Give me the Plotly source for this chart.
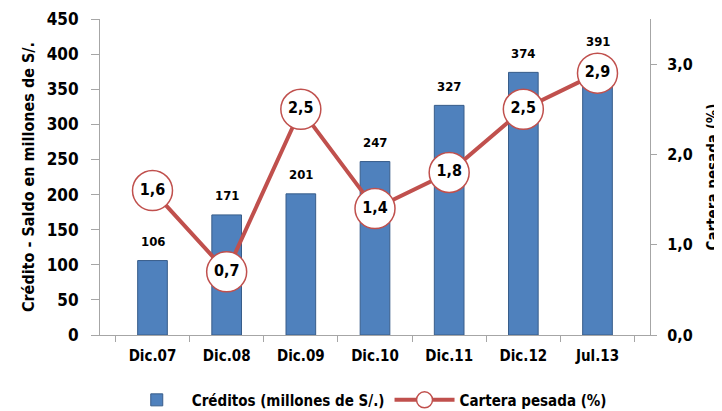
import plotly.graph_objects as go

# datos del gráfico
periodos = ['Dic.07', 'Dic.08', 'Dic.09', 'Dic.10', 'Dic.11', 'Dic.12', 'Jul.13']
creditos = [106, 171, 201, 247, 327, 374, 391]
cartera_pesada = [1.6, 0.7, 2.5, 1.4, 1.8, 2.5, 2.9]

FONT = "DejaVu Sans Condensed, DejaVu Sans, Arial"
AZUL = "#4F81BD"
ROJO = "#C0504D"
GRIS = "#A6A6A6"

fig = go.Figure()

# barras de créditos (eje izquierdo)
fig.add_trace(go.Bar(
    x=periodos, y=creditos,
    name="Créditos (millones de S/.)",
    marker=dict(color=AZUL, line=dict(color="#385D8A", width=1)),
))

# línea de cartera pesada (eje derecho)
fig.add_trace(go.Scatter(
    x=periodos, y=cartera_pesada, yaxis="y2",
    name="Cartera pesada (%)", mode="lines+markers",
    line=dict(color=ROJO, width=4),
    marker=dict(size=40, color="white", line=dict(color=ROJO, width=1.5)),
    cliponaxis=False,
))

# etiquetas dentro de los círculos
fig.add_trace(go.Scatter(
    x=periodos, y=cartera_pesada, yaxis="y2",
    mode="text", showlegend=False, cliponaxis=False,
    text=[f"{v:.1f}".replace(".", ",") for v in cartera_pesada],
    textposition="middle center",
    textfont=dict(family=FONT, size=16, color="black", weight="bold"),
))

# etiquetas sobre las barras
for p, c in zip(periodos, creditos):
    fig.add_annotation(x=p, y=c, yref="y", text=str(c), showarrow=False,
                       yanchor="middle", yshift=19,
                       font=dict(family=FONT, size=13, color="black", weight="bold"))

fig.update_layout(
    width=722, height=411,
    paper_bgcolor="white", plot_bgcolor="white",
    separators=",.",
    font=dict(family=FONT, size=14, color="black", weight="bold"),
    margin=dict(l=92, r=80, t=11, b=84),
    bargap=0.6,
    showlegend=True,
    legend=dict(orientation="h", x=0.485, xanchor="center",
                yref="container", y=0.046, yanchor="middle",
                font=dict(family=FONT, size=15, color="black", weight="bold"),
                itemwidth=60),
    xaxis=dict(
        automargin=False,
        showline=True, linecolor=GRIS, linewidth=1,
        ticks="outside", tickson="boundaries", tickcolor=GRIS, ticklen=6,
        ticklabelstandoff=7,
        tickfont=dict(family=FONT, size=15, weight="bold"),
        showgrid=False,
    ),
    yaxis=dict(
        automargin=False,
        range=[0, 450], dtick=50,
        showline=True, linecolor=GRIS, linewidth=1,
        ticks="outside", tickcolor=GRIS, ticklen=8,
        ticklabelstandoff=9, ticklabeloverflow="allow",
        showgrid=False, zeroline=False,
        tickfont=dict(family=FONT, size=17, weight="bold"),
        title=dict(text="Crédito - Saldo en millones de S/.", standoff=8,
                   font=dict(family=FONT, size=16, weight="bold")),
    ),
    yaxis2=dict(
        automargin=False,
        overlaying="y", side="right",
        range=[0, 3.5], tickvals=[0, 1, 2, 3], tickformat=".1f",
        showline=True, linecolor=GRIS, linewidth=1,
        ticks="outside", tickcolor=GRIS, ticklen=6,
        ticklabelstandoff=7, ticklabeloverflow="allow",
        showgrid=False, zeroline=False,
        tickfont=dict(family=FONT, size=16, weight="bold"),
        title=dict(text="Cartera pesada (%)", standoff=15,
                   font=dict(family=FONT, size=15, weight="bold")),
    ),
)

fig.write_html("out.html")
